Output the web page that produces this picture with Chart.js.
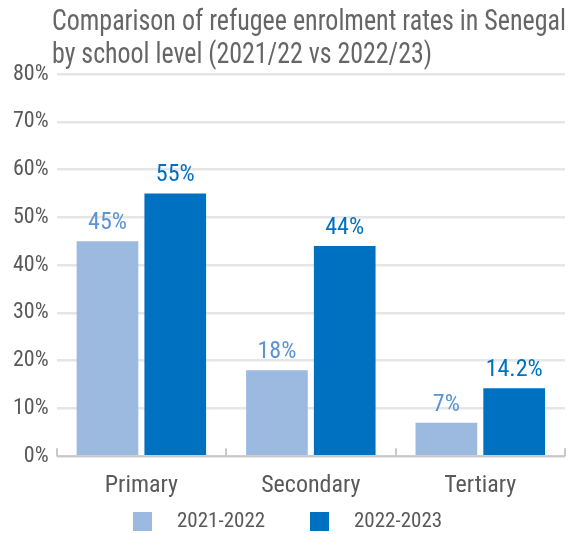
<!DOCTYPE html>
<html>
<head>
<meta charset="utf-8">
<script src="https://cdn.jsdelivr.net/npm/chart.js@4"></script>
<style>
  html, body { margin: 0; padding: 0; background: #fff; }
  #wrap { width: 570px; height: 534px; }
</style>
</head>
<body>
<div id="wrap"><canvas id="myChart"></canvas></div>
<script>
var titleLines = ['Comparison of refugee enrolment rates in Senegal', 'by school level (2021/22 vs 2022/23)'];
var categories = ['Primary', 'Secondary', 'Tertiary'];
var seriesNames = ['2021-2022', '2022-2023'];
var rates2122 = [45, 18, 7];
var rates2223 = [55, 44, 14.2];
var valueLabels2122 = ['45%', '18%', '7%'];
var valueLabels2223 = ['55%', '44%', '14.2%'];

var FONT = '"Roboto Condensed", "Liberation Sans Narrow", "DejaVu Sans Condensed", Roboto, sans-serif';

// two-line title, narrow like the original
var topTitle = {
    id: 'topTitle',
    afterDraw: function (chart) {
        var ctx = chart.ctx;
        var widths = [514, 380];
        var baselines = [30, 63];
        ctx.save();
        ctx.font = '30px ' + FONT;
        ctx.fillStyle = '#666666';
        ctx.textAlign = 'left';
        ctx.textBaseline = 'alphabetic';
        titleLines.forEach(function (t, i) {
            ctx.fillText(t, 52, baselines[i], widths[i]);
        });
        ctx.restore();
    }
};

// value labels above the bars
var barLabels = {
    id: 'barLabels',
    afterDatasetsDraw: function (chart) {
        var ctx = chart.ctx;
        ctx.save();
        ctx.font = '24px ' + FONT;
        ctx.textAlign = 'center';
        ctx.textBaseline = 'bottom';
        chart.data.datasets.forEach(function (ds, i) {
            var meta = chart.getDatasetMeta(i);
            ctx.fillStyle = ds.labelColor;
            meta.data.forEach(function (bar, j) {
                ctx.fillText(ds.valueLabels[j], bar.x, bar.y - 6);
            });
        });
        ctx.restore();
    }
};

// small upward ticks between categories on the x axis
var catTicks = {
    id: 'catTicks',
    afterDraw: function (chart) {
        var ctx = chart.ctx;
        var x = chart.scales.x;
        var area = chart.chartArea;
        var step = (x.right - x.left) / categories.length;
        ctx.save();
        ctx.strokeStyle = '#c8c8c8';
        ctx.lineWidth = 2;
        ctx.beginPath();
        for (var i = 0; i <= categories.length; i++) {
            var px = Math.round(x.left + i * step);
            ctx.moveTo(px, area.bottom);
            ctx.lineTo(px, area.bottom - 8);
        }
        ctx.moveTo(x.left, area.bottom);
        ctx.lineTo(x.right, area.bottom);
        ctx.stroke();
        ctx.restore();
    }
};

// legend at the bottom
var bottomLegend = {
    id: 'bottomLegend',
    afterDraw: function (chart) {
        var ctx = chart.ctx;
        var pos = [133, 310];
        ctx.save();
        ctx.font = '21px ' + FONT;
        ctx.textBaseline = 'middle';
        ctx.textAlign = 'left';
        chart.data.datasets.forEach(function (ds, i) {
            ctx.fillStyle = ds.backgroundColor;
            ctx.fillRect(pos[i], 512, 19, 19);
            ctx.fillStyle = '#595959';
            ctx.fillText(ds.label, pos[i] + 44, 522);
        });
        ctx.restore();
    }
};

var ctx = document.getElementById('myChart').getContext('2d');
var myChart = new Chart(ctx, {
    type: 'bar',
    data: {
        labels: categories,
        datasets: [{
            label: seriesNames[0],
            data: rates2122,
            valueLabels: valueLabels2122,
            backgroundColor: '#9cb9e0',
            labelColor: '#5b93d3',
            categoryPercentage: 0.8,
            barPercentage: 0.91
        }, {
            label: seriesNames[1],
            data: rates2223,
            valueLabels: valueLabels2223,
            backgroundColor: '#0070c0',
            labelColor: '#0070c0',
            categoryPercentage: 0.8,
            barPercentage: 0.91
        }]
    },
    plugins: [topTitle, barLabels, catTicks, bottomLegend],
    options: {
        responsive: true,
        maintainAspectRatio: false,
        animation: false,
        layout: {
            padding: { left: 5, right: 5, top: 74, bottom: 19 }
        },
        plugins: {
            legend: { display: false },
            tooltip: { enabled: false },
            title: { display: false }
        },
        scales: {
            x: {
                grid: { display: false, drawTicks: false },
                border: { display: false },
                ticks: {
                    color: '#595959',
                    font: { family: FONT, size: 24 },
                    padding: 15
                }
            },
            y: {
                min: 0,
                max: 80,
                border: { display: false },
                grid: { color: '#e6e6e6', lineWidth: 2.5, drawTicks: false },
                ticks: {
                    stepSize: 10,
                    color: '#595959',
                    font: { family: FONT, size: 22 },
                    padding: 8,
                    callback: function (v) { return v + '%'; }
                }
            }
        }
    }
});
</script>
</body>
</html>
